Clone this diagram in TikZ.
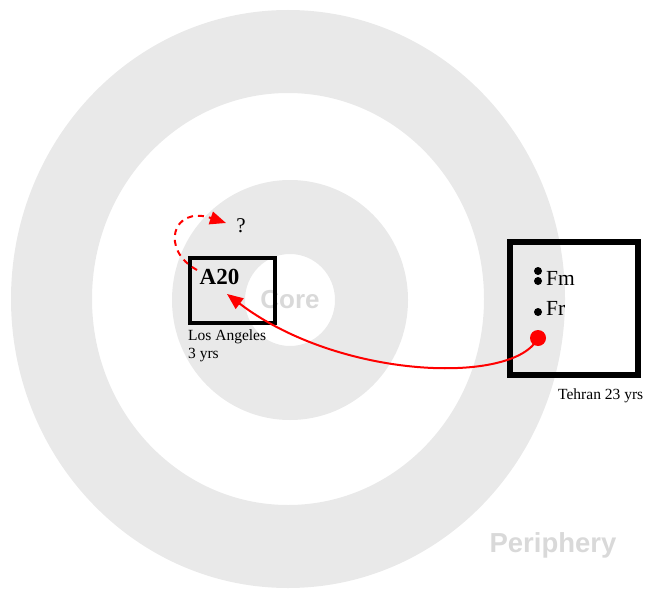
\documentclass[tikz,border=0pt]{standalone}
\usepackage{fontspec}
\setmainfont{Liberation Serif}
\setsansfont{Liberation Sans}
\usetikzlibrary{arrows.meta}
\definecolor{ringgrey}{HTML}{E9E9E9}
\definecolor{labelgrey}{HTML}{D9D9D9}
\tikzset{
  boxline/.style={draw=black, fill=none, inner sep=0pt},
  zonelabel/.style={font=\sffamily\bfseries\fontsize{26}{30}\selectfont, text=labelgrey},
  smalltext/.style={font=\fontsize{15.5}{18}\selectfont, inner sep=0pt},
  dotmark/.style={circle, fill=black, inner sep=0pt, minimum size=8pt},
  redarrow/.style={draw=red, line width=2pt, -{Triangle[length=16pt,width=13pt]}},
}
\begin{document}
\begin{tikzpicture}[x=1pt,y=-1pt]
\useasboundingbox (0,0) rectangle (647,591);
% rings
\fill[ringgrey, even odd rule] (288,299) ellipse [x radius=277, y radius=289]
  (288,299) ellipse [x radius=196, y radius=206];
\fill[ringgrey, even odd rule] (290,300) ellipse [x radius=118, y radius=120]
  (290,300) ellipse [x radius=45, y radius=46];
\node[zonelabel] (core) at (290,300) {Core};
\node[zonelabel, font=\sffamily\bfseries\fontsize{27.5}{31}\selectfont] (periphery) at (553,545) {Periphery};
% A20 box
\node[boxline, line width=4pt, minimum width=85pt, minimum height=65pt] (a20box) at (232.5,290.5) {};
\node[font=\bfseries\fontsize{23}{27}\selectfont, inner sep=0pt] (a20) at (219.5,277) {A20};
\node[smalltext, anchor=north west, align=left] (la) at (188,330) {Los Angeles\\3 yrs};
% Tehran box
\node[boxline, line width=6.5pt, minimum width=128pt, minimum height=133pt] (tehbox) at (574,308.5) {};
\node[smalltext, anchor=west] (teh) at (558,396) {Tehran 23 yrs};
\node[dotmark] (fm1) at (538,271) {};
\node[dotmark] (fm2) at (538,281) {};
\node[dotmark] (fr1) at (538,312) {};
\node[font=\fontsize{21.5}{25}\selectfont, inner sep=0pt, anchor=west] (fm) at (546,278) {Fm};
\node[font=\fontsize{21.5}{25}\selectfont, inner sep=0pt, anchor=west] (fr) at (546,308) {Fr};
\node[circle, fill=red, inner sep=0pt, minimum size=16pt] (reddot) at (538,338) {};
% question
\node[font=\fontsize{21}{25}\selectfont, inner sep=0pt] (q) at (241,226) {?};
% arrows
\coordinate (a20tip) at (227,294);
\coordinate (dstart) at (197,270);
\coordinate (dend) at (226,223);
\draw[redarrow] (reddot.center) .. controls (515,385) and (340,380) .. (a20tip);
\draw[redarrow, dash pattern=on 6pt off 5pt] (dstart) .. controls (160,250) and (172,205) .. (dend);
\end{tikzpicture}
\end{document}
